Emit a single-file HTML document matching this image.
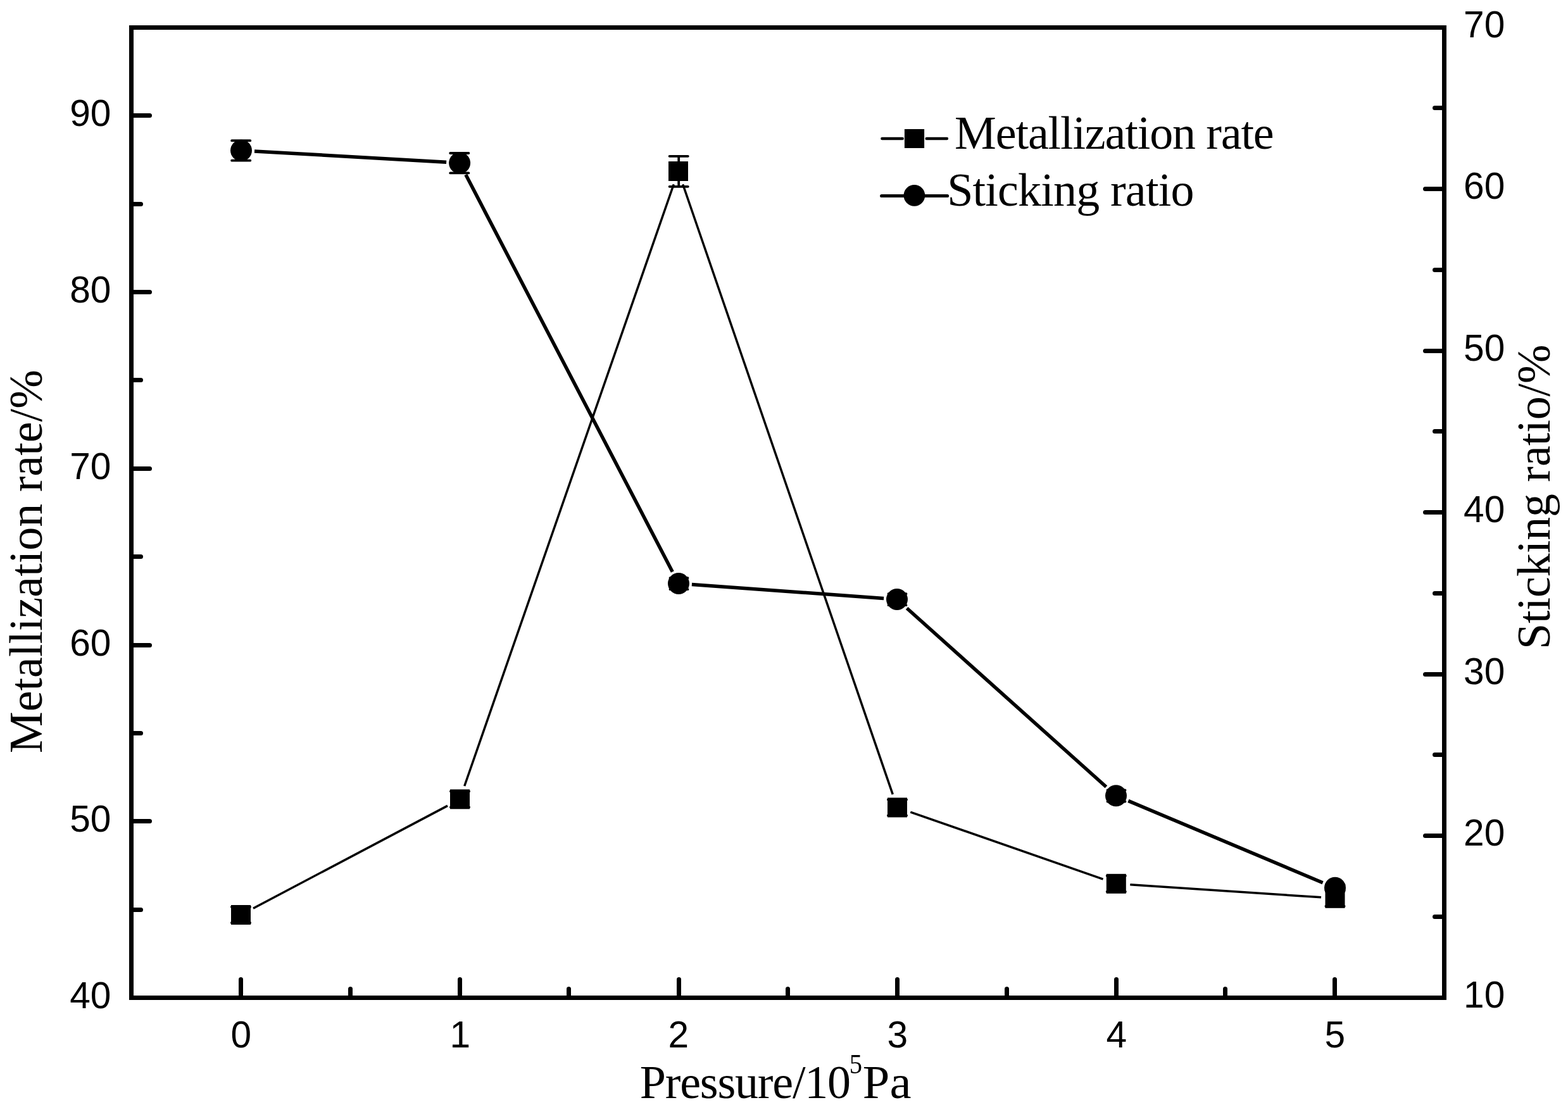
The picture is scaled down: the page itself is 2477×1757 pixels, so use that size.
<!DOCTYPE html>
<html lang="en"><head><meta charset="utf-8"><title>Metallization rate and sticking ratio vs pressure</title>
<style>
html,body{margin:0;padding:0;background:#fff;}
body{width:2477px;height:1757px;overflow:hidden;}
svg{display:block;font-kerning:none;}
.tk{font-family:"Liberation Sans",sans-serif;font-size:58.6px;fill:#000;}
.ti{font-family:"Liberation Serif",serif;font-size:74px;fill:#000;}
.sup{font-family:"Liberation Serif",serif;font-size:44.5px;fill:#000;}
.ax{stroke:#000;stroke-width:7;fill:none;stroke-linecap:round;}
.l1{stroke:#000;stroke-width:3.5;fill:none;stroke-linecap:butt;stroke-linejoin:round;}
.l2{stroke:#000;stroke-width:5.5;fill:none;stroke-linecap:butt;stroke-linejoin:round;}
.eb{stroke:#000;stroke-width:3.8;fill:none;stroke-linecap:round;}
</style></head><body>
<svg width="2477" height="1757" viewBox="0 0 2477 1757">
<rect x="0" y="0" width="2477" height="1757" fill="#fff"/>
<rect x="207.5" y="43.5" width="2074.0" height="1533.0" fill="none" stroke="#000" stroke-width="7"/>
<g class="ax">
<line x1="207.5" y1="1437.50" x2="222.5" y2="1437.50"/>
<line x1="207.5" y1="1297.50" x2="236.5" y2="1297.50"/>
<line x1="207.5" y1="1158.50" x2="222.5" y2="1158.50"/>
<line x1="207.5" y1="1019.50" x2="236.5" y2="1019.50"/>
<line x1="207.5" y1="879.50" x2="222.5" y2="879.50"/>
<line x1="207.5" y1="740.50" x2="236.5" y2="740.50"/>
<line x1="207.5" y1="600.50" x2="222.5" y2="600.50"/>
<line x1="207.5" y1="461.50" x2="236.5" y2="461.50"/>
<line x1="207.5" y1="322.50" x2="222.5" y2="322.50"/>
<line x1="207.5" y1="182.50" x2="236.5" y2="182.50"/>
<line x1="2281.5" y1="1448.50" x2="2266.5" y2="1448.50"/>
<line x1="2281.5" y1="1320.50" x2="2251.5" y2="1320.50"/>
<line x1="2281.5" y1="1192.50" x2="2266.5" y2="1192.50"/>
<line x1="2281.5" y1="1065.50" x2="2251.5" y2="1065.50"/>
<line x1="2281.5" y1="937.50" x2="2266.5" y2="937.50"/>
<line x1="2281.5" y1="809.50" x2="2251.5" y2="809.50"/>
<line x1="2281.5" y1="681.50" x2="2266.5" y2="681.50"/>
<line x1="2281.5" y1="554.50" x2="2251.5" y2="554.50"/>
<line x1="2281.5" y1="426.50" x2="2266.5" y2="426.50"/>
<line x1="2281.5" y1="298.50" x2="2251.5" y2="298.50"/>
<line x1="2281.5" y1="170.50" x2="2266.5" y2="170.50"/>
<line x1="380.50" y1="1576.5" x2="380.50" y2="1547.5"/>
<line x1="553.50" y1="1576.5" x2="553.50" y2="1562.5"/>
<line x1="726.50" y1="1576.5" x2="726.50" y2="1547.5"/>
<line x1="898.50" y1="1576.5" x2="898.50" y2="1562.5"/>
<line x1="1072.50" y1="1576.5" x2="1072.50" y2="1547.5"/>
<line x1="1244.50" y1="1576.5" x2="1244.50" y2="1562.5"/>
<line x1="1417.50" y1="1576.5" x2="1417.50" y2="1547.5"/>
<line x1="1590.50" y1="1576.5" x2="1590.50" y2="1562.5"/>
<line x1="1763.50" y1="1576.5" x2="1763.50" y2="1547.5"/>
<line x1="1935.50" y1="1576.5" x2="1935.50" y2="1562.5"/>
<line x1="2108.50" y1="1576.5" x2="2108.50" y2="1547.5"/>
</g>
<g class="tk">
<text x="175.4" y="1592.5" text-anchor="end">40</text>
<text x="175.4" y="1313.5" text-anchor="end">50</text>
<text x="175.4" y="1035.5" text-anchor="end">60</text>
<text x="175.4" y="756.5" text-anchor="end">70</text>
<text x="175.4" y="477.5" text-anchor="end">80</text>
<text x="175.4" y="198.5" text-anchor="end">90</text>
<text x="2312.1" y="1591.5">10</text>
<text x="2312.1" y="1336.3">20</text>
<text x="2312.1" y="1081.3">30</text>
<text x="2312.1" y="825.3">40</text>
<text x="2312.1" y="570.3">50</text>
<text x="2312.1" y="314.3">60</text>
<text x="2312.1" y="58.5">70</text>
<text x="380.8" y="1654.8" text-anchor="middle">0</text>
<text x="726.8" y="1654.8" text-anchor="middle">1</text>
<text x="1071.8" y="1654.8" text-anchor="middle">2</text>
<text x="1417.8" y="1654.8" text-anchor="middle">3</text>
<text x="1763.8" y="1654.8" text-anchor="middle">4</text>
<text x="2108.8" y="1654.8" text-anchor="middle">5</text>
</g>
<text class="ti" x="1010.8" y="1734.9" textLength="333.3" lengthAdjust="spacing">Pressure/10</text>
<text class="sup" x="1341.7" y="1695.5" textLength="20.3" lengthAdjust="spacingAndGlyphs">5</text>
<text class="ti" x="1362.8" y="1734.9" textLength="76.6" lengthAdjust="spacingAndGlyphs">Pa</text>
<text class="ti" transform="translate(66.3,1190.1) rotate(-90)" textLength="605.9" lengthAdjust="spacing">Metallization rate/%</text>
<text class="ti" transform="translate(2448.1,1026.0) rotate(-90)" textLength="481.7" lengthAdjust="spacing">Sticking ratio/%</text>
<g class="l1">
<line x1="400.0" y1="1435.2" x2="707.0" y2="1273.1"/>
<line x1="733.7" y1="1242.0" x2="1064.3" y2="291.3"/>
<line x1="1078.7" y1="291.3" x2="1410.3" y2="1255.1"/>
<line x1="1438.3" y1="1283.1" x2="1742.5" y2="1389.1"/>
<line x1="1785.3" y1="1397.8" x2="2087.0" y2="1417.8"/>
</g>
<g class="l2">
<line x1="402.0" y1="238.9" x2="705.1" y2="256.3"/>
<line x1="735.8" y1="276.1" x2="1062.3" y2="903.4"/>
<line x1="1092.9" y1="923.5" x2="1396.1" y2="945.5"/>
<line x1="1432.6" y1="961.0" x2="1747.4" y2="1243.3"/>
<line x1="1782.4" y1="1265.4" x2="2089.6" y2="1394.7"/>
</g>
<g class="eb">
<path d="M365.9 1433.0H395.1M365.9 1458.0H395.1M380.5 1433.0V1458.0"/>
<path d="M711.9 1250.3H741.1M711.9 1275.3H741.1M726.5 1250.3V1275.3"/>
<path d="M1057.6 246.8H1086.8M1057.6 294.8H1086.8M1072.2 246.8V294.8"/>
<path d="M1402.9 1263.4H1432.1M1402.9 1288.4H1432.1M1417.5 1263.4V1288.4"/>
<path d="M1748.7 1383.8H1777.9M1748.7 1408.8H1777.9M1763.3 1383.8V1408.8"/>
<path d="M2094.4 1406.8H2123.6M2094.4 1431.8H2123.6M2109.0 1406.8V1431.8"/>
<path d="M366.1 222.2H395.3M366.1 253.6H395.3M380.7 222.2V253.6"/>
<path d="M711.2 242.0H740.4M711.2 273.4H740.4M725.8 242.0V273.4"/>
<path d="M1058.5 913.2H1086.5M1058.5 931.2H1086.5M1072.5 913.2V931.2"/>
<path d="M1403.5 938.2H1431.5M1403.5 956.2H1431.5M1417.5 938.2V956.2"/>
<path d="M1749.5 1248.5H1777.5M1749.5 1266.5H1777.5M1763.5 1248.5V1266.5"/>
<path d="M2095.5 1398.0H2123.5M2095.5 1408.0H2123.5M2109.5 1398.0V1408.0"/>
</g>
<g fill="#000">
<rect x="365.0" y="1430.0" width="31" height="31"/>
<rect x="711.0" y="1247.3" width="31" height="31"/>
<rect x="1056.0" y="255.0" width="31" height="31"/>
<rect x="1402.0" y="1260.4" width="31" height="31"/>
<rect x="1747.8" y="1380.8" width="31" height="31"/>
<rect x="2093.5" y="1403.8" width="31" height="31"/>
<circle cx="381.0" cy="237.7" r="17"/>
<circle cx="726.1" cy="257.5" r="17"/>
<circle cx="1072.0" cy="922.0" r="17"/>
<circle cx="1417.0" cy="947.0" r="17"/>
<circle cx="1763.0" cy="1257.3" r="17"/>
<circle cx="2109.0" cy="1402.8" r="17"/>
</g>
<g stroke="#000" stroke-width="4.4" stroke-linecap="round"><line x1="1393.4" y1="219" x2="1425.7" y2="219"/><line x1="1463.7" y1="219" x2="1495.9" y2="219"/></g>
<rect x="1428.9" y="204" width="31.2" height="30" fill="#000"/>
<g stroke="#000" stroke-width="5.2" stroke-linecap="round"><line x1="1392.7" y1="309.5" x2="1496.5" y2="309.5"/></g>
<circle cx="1444.4" cy="308.9" r="16.9" fill="#000"/>
<text class="ti" x="1508.1" y="234.9" textLength="504.6" lengthAdjust="spacing">Metallization rate</text>
<text class="ti" x="1496.2" y="324.7" textLength="390.2" lengthAdjust="spacing">Sticking ratio</text>
</svg></body></html>
